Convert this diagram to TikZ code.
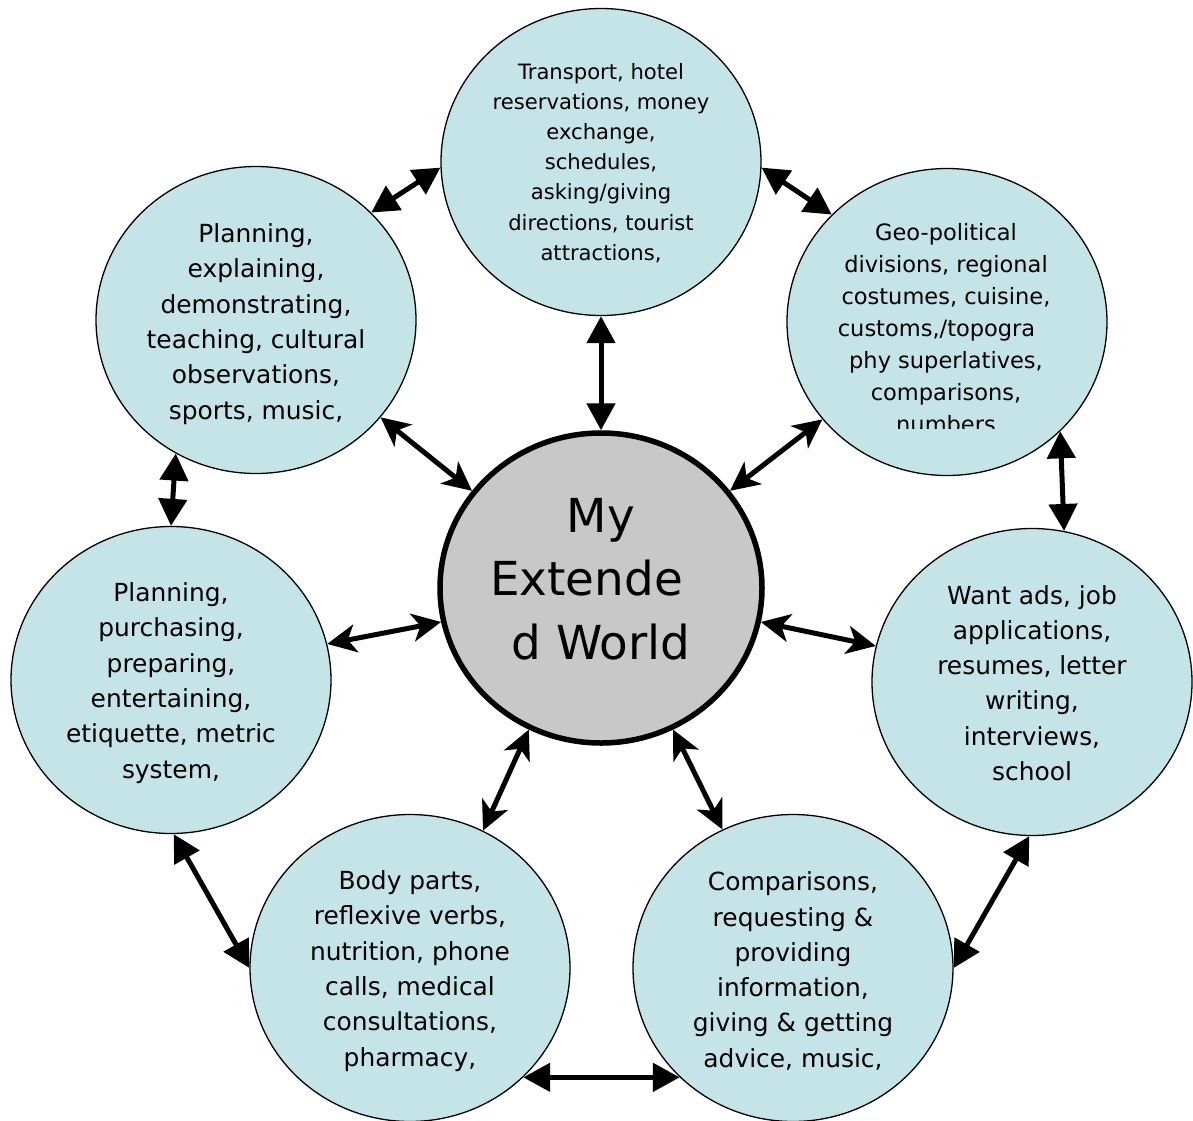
\documentclass[tikz,border=0pt]{standalone}
\usepackage{fontspec}
\setmainfont{DejaVu Sans}
\usetikzlibrary{shapes.geometric,arrows.meta}
\definecolor{bubble}{RGB}{197,228,232}
\definecolor{hubgray}{RGB}{200,200,200}
\begin{document}
\begin{tikzpicture}[x=1bp,y=-1bp,
  bub/.style={ellipse,draw=black,line width=1.3bp,fill=bubble,minimum width=320bp,minimum height=307bp,inner sep=0pt},
  hubnode/.style={ellipse,draw=black,line width=5.5bp,fill=hubgray,minimum width=322bp,minimum height=310bp,inner sep=0pt},
  txt/.style={align=center,inner sep=0pt,text=black,font=\fontsize{25}{35.4}\selectfont},
  link/.style={line width=5bp,{Triangle[length=27bp,width=28bp]}-{Triangle[length=27bp,width=28bp]}},
  spoke/.style={line width=5bp,{Stealth[length=29bp,width=28bp,inset=8bp]}-{Stealth[length=29bp,width=28bp,inset=8bp]}}]
\useasboundingbox (0,0) rectangle (1193,1121);
\fill[white] (0,0) rectangle (1193,1121);

\node[bub] (T) at (601,162) {};
\node[bub] (UL) at (256,320) {};
\node[bub] (UR) at (947,322) {};
\node[bub] (L) at (171,680) {};
\node[bub] (R) at (1032,682) {};
\node[bub] (BL) at (410,968) {};
\node[bub] (BR) at (793,968) {};
\node[hubnode] (C) at (601,588) {};

\node[txt,font=\fontsize{21.2}{30.3}\selectfont] (Tt) at (601,163) {Transport, hotel\\reservations, money\\exchange,\\schedules,\\asking/giving\\directions, tourist\\attractions,};
\node[txt] (ULt) at (256,324) {Planning,\\explaining,\\demonstrating,\\teaching, cultural\\observations,\\sports, music,};
\begin{scope}
\clip (700,150) rectangle (1193,428);
\node[txt,font=\fontsize{22.6}{32}\selectfont] (URt) at (946,328) {Geo-political\\divisions, regional\\costumes, cuisine,\\customs,/topogra\rule{0.84em}{0pt}\\phy superlatives,\\comparisons,\\numbers};
\end{scope}
\node[txt] (Lt) at (171,683) {Planning,\\purchasing,\\preparing,\\entertaining,\\etiquette, metric\\system,};
\node[txt] (Rt) at (1032,683) {Want ads, job\\applications,\\resumes, letter\\writing,\\interviews,\\school};
\node[txt] (BLt) at (410,971) {Body parts,\\reflexive verbs,\\nutrition, phone\\calls, medical\\consultations,\\pharmacy,};
\node[txt] (BRt) at (793,971) {Comparisons,\\requesting \&\\providing\\information,\\giving \& getting\\advice, music,};
\node[txt,font=\fontsize{47}{63.5}\selectfont] (Ct) at (601,579) {My\\Extende\rule{0.62em}{0pt}\\d World};

\draw[link] (T.270) -- (C.90);
\draw[link] (T.182) -- (UL.43);
\draw[link] (T.358) -- (UR.137);
\draw[spoke] (UL.322) -- (C.143);
\draw[spoke] (UR.218) -- (C.37);
\draw[link] (UL.239) -- (L.90);
\draw[link] (UR.316) -- (R.78);
\draw[spoke] (L.13) -- (C.192);
\draw[spoke] (C.348) -- (R.167);
\draw[spoke] (C.243) -- (BL.62);
\draw[spoke] (C.297) -- (BR.117);
\draw[link] (L.271) -- (BL.180);
\draw[link] (R.269) -- (BR.0);
\draw[link] (BL.316) -- (BR.224);
\end{tikzpicture}
\end{document}
